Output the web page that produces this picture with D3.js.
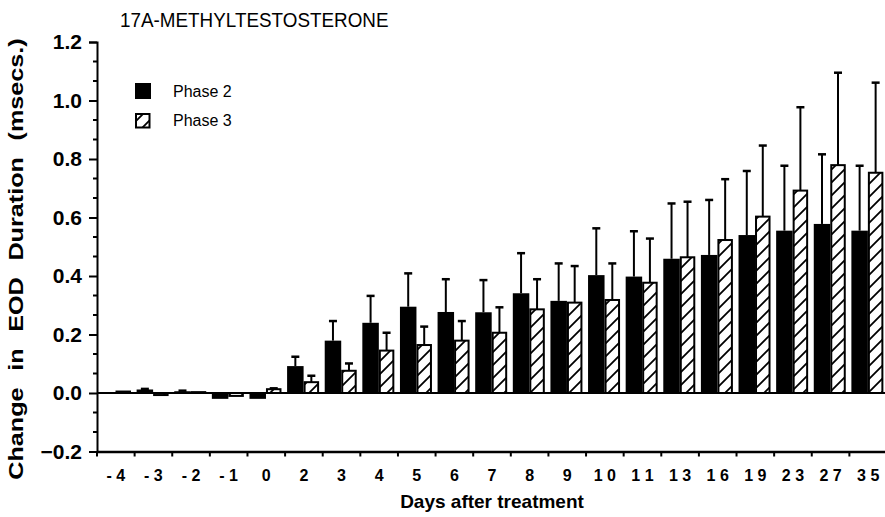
<!DOCTYPE html>
<html>
<head>
<meta charset="utf-8">
<script src="https://cdn.jsdelivr.net/npm/d3@7"></script>
<style>
  body { margin: 0; background: #fff; }
  text { font-family: "Liberation Sans", Arial, Helvetica, sans-serif; fill: #000; }
</style>
</head>
<body>
<div id="chart"></div>
<script>
const days = ["-4", "-3", "-2", "-1", "0", "2", "3", "4", "5", "6", "7", "8", "9", "10", "11", "13", "16", "19", "23", "27", "35"];

const phase2 = [0.002, 0.012, 0.006, -0.02, -0.02, 0.092, 0.179, 0.24, 0.295, 0.277, 0.276, 0.341, 0.315, 0.403, 0.398, 0.459, 0.472, 0.54, 0.555, 0.578, 0.555];
const phase2Err = [0, 0.002, 0.002, 0, 0, 0.032, 0.067, 0.092, 0.114, 0.112, 0.11, 0.137, 0.128, 0.16, 0.155, 0.189, 0.188, 0.219, 0.222, 0.238, 0.222];

const phase3 = [0.005, -0.007, 0.003, -0.01, 0.013, 0.037, 0.076, 0.145, 0.164, 0.179, 0.206, 0.286, 0.309, 0.318, 0.377, 0.464, 0.523, 0.603, 0.692, 0.779, 0.753];
const phase3Err = [0, 0, 0, 0, 0.003, 0.022, 0.025, 0.061, 0.063, 0.067, 0.087, 0.103, 0.125, 0.125, 0.151, 0.19, 0.208, 0.243, 0.285, 0.316, 0.308];

const yTicks = [-0.2, 0.0, 0.2, 0.4, 0.6, 0.8, 1.0, 1.2];
const legendLabels = ["Phase 2", "Phase 3"];

const width = 885,
  height = 517,
  margin = { top: 42, right: -2, bottom: 65.5, left: 97 },
  svg = d3.select("#chart").append("svg").attr("width", width).attr("height", height),
  xScale = d3
    .scaleBand()
    .domain(days)
    .range([margin.left, width - margin.right])
    .paddingInner(0)
    .paddingOuter(0),
  yScale = d3
    .scaleLinear()
    .domain([-0.2, 1.2])
    .range([height - margin.bottom, margin.top]);

// hatch pattern for phase 3
const defs = svg.append("defs");
defs
  .append("pattern")
  .attr("id", "hatch")
  .attr("patternUnits", "userSpaceOnUse")
  .attr("width", 13)
  .attr("height", 13)
  .append("path")
  .attr("d", "M0,13 L13,0 M-3,3 L3,-3 M10,16 L16,10")
  .attr("stroke", "#000")
  .attr("stroke-width", 1.8);

// title (scanned type is a bit narrow)
svg
  .append("text")
  .attr("transform", "translate(120, 27) scale(0.92, 1)")
  .attr("font-size", 20.5)
  .text("17A-METHYLTESTOSTERONE");

// y axis (major + minor ticks)
const yAxis = svg
  .append("g")
  .attr("transform", `translate(${margin.left}, 0)`)
  .call(d3.axisLeft(yScale).tickValues(yTicks).tickSize(8).tickPadding(7).tickFormat(d3.format(".1f")));
yAxis.select(".domain").attr("stroke-width", 2);
yAxis.selectAll(".tick line").attr("stroke-width", 2);
yAxis
  .selectAll(".tick text")
  .attr("font-size", 21)
  .attr("font-weight", "bold")
  .attr("font-family", "Liberation Sans, Arial, sans-serif");

const minorTicks = d3.range(-0.2, 1.2, 0.2 / 3).filter((v, i) => i % 3 !== 0);
svg
  .append("g")
  .selectAll("line")
  .data(minorTicks)
  .join("line")
  .attr("x1", margin.left - 4)
  .attr("x2", margin.left)
  .attr("y1", (d) => yScale(d))
  .attr("y2", (d) => yScale(d))
  .attr("stroke", "#000")
  .attr("stroke-width", 2);

// x axis
const xAxis = svg
  .append("g")
  .attr("transform", `translate(0, ${yScale(-0.2)})`)
  .call(d3.axisBottom(xScale).tickSize(0).tickPadding(18).tickFormat((d) => d.split("").join(" ")));
xAxis.select(".domain").attr("stroke-width", 2.5);
xAxis
  .selectAll(".tick text")
  .attr("font-size", 16)
  .attr("font-weight", "bold")
  .attr("font-family", "Liberation Sans, Arial, sans-serif");

svg
  .append("g")
  .selectAll("line")
  .data(days)
  .join("line")
  .attr("x1", (d) => xScale(d))
  .attr("x2", (d) => xScale(d))
  .attr("y1", yScale(-0.2))
  .attr("y2", yScale(-0.2) + 5)
  .attr("stroke", "#000")
  .attr("stroke-width", 2);

// zero line
svg
  .append("line")
  .attr("x1", margin.left)
  .attr("x2", width)
  .attr("y1", yScale(0))
  .attr("y2", yScale(0))
  .attr("stroke", "#000")
  .attr("stroke-width", 2);

// axis titles
svg
  .append("text")
  .attr("x", 492)
  .attr("y", 508)
  .attr("text-anchor", "middle")
  .attr("font-size", 19)
  .attr("font-weight", "bold")
  .text("Days after treatment");

svg
  .append("text")
  .attr("transform", "translate(23, 259) rotate(-90) scale(1.2, 1)")
  .attr("text-anchor", "middle")
  .attr("font-size", 21)
  .attr("font-weight", "bold")
  .attr("word-spacing", 8)
  .text("Change in EOD Duration (msecs.)");

// bars
const rows = days.map((d, i) => ({
  day: d,
  p2: phase2[i],
  p2e: phase2Err[i],
  p3: phase3[i],
  p3e: phase3Err[i],
}));

const bars = svg.append("g");

// error bars first so bar tops cover them
function errorBar(g, cx, v, e) {
  if (e <= 0) return;
  const y0 = yScale(v),
    y1 = yScale(v + e);
  g.append("line").attr("x1", cx).attr("x2", cx).attr("y1", y0).attr("y2", y1).attr("stroke", "#000").attr("stroke-width", 2);
  g.append("line").attr("x1", cx - 4).attr("x2", cx + 4).attr("y1", y1).attr("y2", y1).attr("stroke", "#000").attr("stroke-width", 2.5);
}

rows.forEach((r) => {
  const x0 = xScale(r.day);
  errorBar(bars, x0 + 2 + 8.25, r.p2, r.p2e);
  errorBar(bars, x0 + 19.5 + 6.75, r.p3, r.p3e);
});

bars
  .selectAll("rect.p2")
  .data(rows)
  .join("rect")
  .attr("class", "p2")
  .attr("x", (d) => xScale(d.day) + 2)
  .attr("width", 16.5)
  .attr("y", (d) => yScale(Math.max(d.p2, 0)))
  .attr("height", (d) => Math.abs(yScale(d.p2) - yScale(0)))
  .attr("fill", "#000");

bars
  .selectAll("rect.p3")
  .data(rows)
  .join("rect")
  .attr("class", "p3")
  .attr("x", (d) => xScale(d.day) + 19.5)
  .attr("width", 13.5)
  .attr("y", (d) => yScale(Math.max(d.p3, 0)))
  .attr("height", (d) => Math.abs(yScale(d.p3) - yScale(0)))
  .attr("fill", "url(#hatch)")
  .attr("stroke", "#000")
  .attr("stroke-width", 2);

// legend
const legend = svg.append("g").attr("transform", "translate(135, 83)");
legend.append("rect").attr("x", 0).attr("y", 0).attr("width", 16).attr("height", 16).attr("fill", "#000");
legend
  .append("rect")
  .attr("x", 1)
  .attr("y", 31)
  .attr("width", 13.5)
  .attr("height", 13.5)
  .attr("fill", "url(#hatch)")
  .attr("stroke", "#000")
  .attr("stroke-width", 2);
legend
  .selectAll("text")
  .data(legendLabels)
  .join("text")
  .attr("x", 38)
  .attr("y", (d, i) => 14 + i * 29)
  .attr("font-size", 16)
  .text((d) => d);
</script>
</body>
</html>
